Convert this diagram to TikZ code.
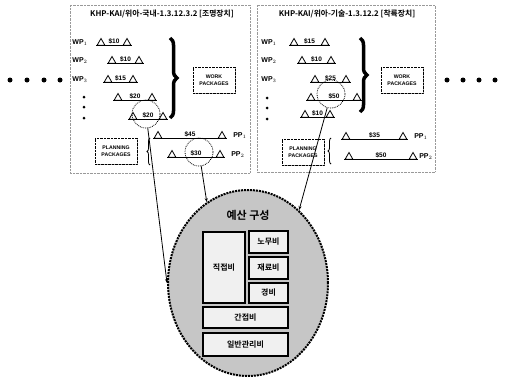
\documentclass[tikz,border=0pt]{standalone}
\usepackage{fontspec}
\setmainfont{Liberation Sans}
\newfontfamily\kr{Noto Sans CJK KR}[BoldFont={Noto Sans CJK KR Bold}]
\usepackage{tikz}
\usetikzlibrary{arrows.meta,positioning,shapes.geometric,decorations.pathreplacing,shadows}

\begin{document}
\begin{tikzpicture}[
    x=1pt, y=-1pt,
    panel/.style={draw=gray!80, densely dotted},
    heading/.style={font=\kr\bfseries\fontsize{7.8}{9}\selectfont},
    wplabel/.style={font=\bfseries\fontsize{7}{8}\selectfont, inner sep=0pt},
    tri/.style={regular polygon, regular polygon sides=3, draw, thick,
                minimum size=9pt, inner sep=0pt},
    cost/.style={font=\bfseries\fontsize{6.5}{7}\selectfont, inner sep=0.8pt},
    bar/.style={thick},
    pkgbox/.style={draw, densely dotted, fill=white, align=center,
                   font=\bfseries\fontsize{5.2}{6.5}\selectfont,
                   minimum width=42pt, minimum height=26pt, inner sep=1pt,
                   general shadow={shadow xshift=1.2pt, shadow yshift=-1.2pt, fill=gray!70}},
    hilite/.style={circle, draw, densely dotted, thick, minimum size=28pt, inner sep=0pt},
    bigdot/.style={circle, fill=black, minimum size=5pt, inner sep=0pt},
    smalldot/.style={circle, fill=black, minimum size=3pt, inner sep=0pt},
    bigbrace/.style={decorate, decoration={brace, amplitude=7pt}, line width=3.5pt},
    smallbrace/.style={decorate, decoration={brace, amplitude=3pt}, thick},
    costbox/.style={draw, very thick, fill=gray!12, font=\kr\bfseries\fontsize{8}{9}\selectfont,
                    inner sep=0pt},
    link/.style={-{Stealth[length=4pt, width=3pt]}, thick},
]
    \useasboundingbox (0,0) rectangle (506,380);

    % Panels
    \draw[panel] (70,5) rectangle (250,173);
    \draw[panel] (257,5) rectangle (435,172);
    \node[heading] (ltitle) at (162,14) {KHP-KAI/위아-국내-1.3.12.3.2 [조명장치]};
    \node[heading] (rtitle) at (347,14) {KHP-KAI/위아-기술-1.3.12.2 [착륙장치]};

    % Work package labels
    \foreach \n/\xx/\yy/\k in {lw1/80/43/1, lw2/80/61/2, lw3/80/80/3,
                               rw1/269/43/1, rw2/269/61/2, rw3/269/80/3}
        \node[wplabel] (\n) at (\xx,\yy) {WP$_{\k}$};

    % Cost bars
    \foreach \n/\xa/\xb/\yy/\c in {
            l1/101/127/43/\$10, l2/112/139/61/\$10, l3/108/133/80/\$15,
            l4/118/152/98/\$20, l5/133/163/117/\$20,
            lp1/158/222/136/\$45, lp2/172/220/155/\$30,
            r1/294/325/43/\$15, r2/302/331/61/\$10, r3/315/346/80/\$25,
            r4/311/357/98/\$50, r5/305/330/115/\$10,
            rp1/346/403/137/\$35, rp2/349/413/157/\$50} {
        \node[tri] (\n-l) at (\xa,\yy) {};
        \node[tri] (\n-r) at (\xb,\yy) {};
        \draw[bar] (\n-l.corner 2) -- (\n-r.corner 3)
            node[midway, above, cost] {\c};
    }

    % Vertical dots
    \foreach \yy in {97,107,118} {
        \node[smalldot] (ld\yy) at (84,\yy) {};
        \node[smalldot] (rd\yy) at (267,\yy+1) {};
    }

    % Planning package labels
    \node[wplabel, right=8pt of lp1-r] (lpp1) {PP$_1$};
    \node[wplabel, right=8pt of lp2-r] (lpp2) {PP$_2$};
    \node[wplabel, right=8pt of rp1-r] (rpp1) {PP$_1$};
    \node[wplabel, right=3pt of rp2-r] (rpp2) {PP$_2$};

    % Braces and package boxes
    \draw[bigbrace] (170,38) -- (170,118);
    \draw[bigbrace] (360,38) -- (360,112);
    \draw[smallbrace] (150,165) -- (150,138);
    \draw[smallbrace] (331,164) -- (331,138);
    \node[pkgbox] (lwork) at (214,80) {WORK\\PACKAGES};
    \node[pkgbox] (rwork) at (402,80) {WORK\\PACKAGES};
    \node[pkgbox] (lplan) at (116,151) {PLANNING\\PACKAGES};
    \node[pkgbox] (rplan) at (303,152) {PLANNING\\PACKAGES};

    % Highlighted costs
    \node[hilite] (c1) at (146,114) {};
    \node[hilite] (c2) at (199,152) {};
    \node[hilite] (c3) at (331,94) {};

    % Side dots
    \foreach \xx in {10,27,44,60} \node[bigdot] (ls\xx) at (\xx,80) {};
    \foreach \xx in {447,463,479,495} \node[bigdot] (rs\xx) at (\xx,80) {};

    % Budget structure
    \node[ellipse, draw, densely dotted, line width=2pt, fill=gray!45,
          minimum width=160pt, minimum height=186pt] (budget) at (248,283) {};
    \node[font=\kr\bfseries\fontsize{11}{12}\selectfont] (btitle) at (248,215) {예산 구성};
    \node[costbox, minimum width=42pt, minimum height=71pt] (direct) at (224,267.5) {직접비};
    \node[costbox, minimum width=39pt, minimum height=22pt] (labor) at (268.5,242) {노무비};
    \node[costbox, minimum width=39pt, minimum height=22pt] (material) at (268.5,268) {재료비};
    \node[costbox, minimum width=39pt, minimum height=20pt] (expense) at (268.5,293) {경비};
    \node[costbox, minimum width=85pt, minimum height=21pt] (indirect) at (245.5,317.5) {간접비};
    \node[costbox, minimum width=85pt, minimum height=23pt] (admin) at (245.5,344.5) {일반관리비};

    % Links to budget
    \draw[link] (c1) -- (budget.west);
    \draw[link] (c2) -- (budget.117);
    \draw[link] (c3) -- (budget.55);
\end{tikzpicture}
\end{document}
